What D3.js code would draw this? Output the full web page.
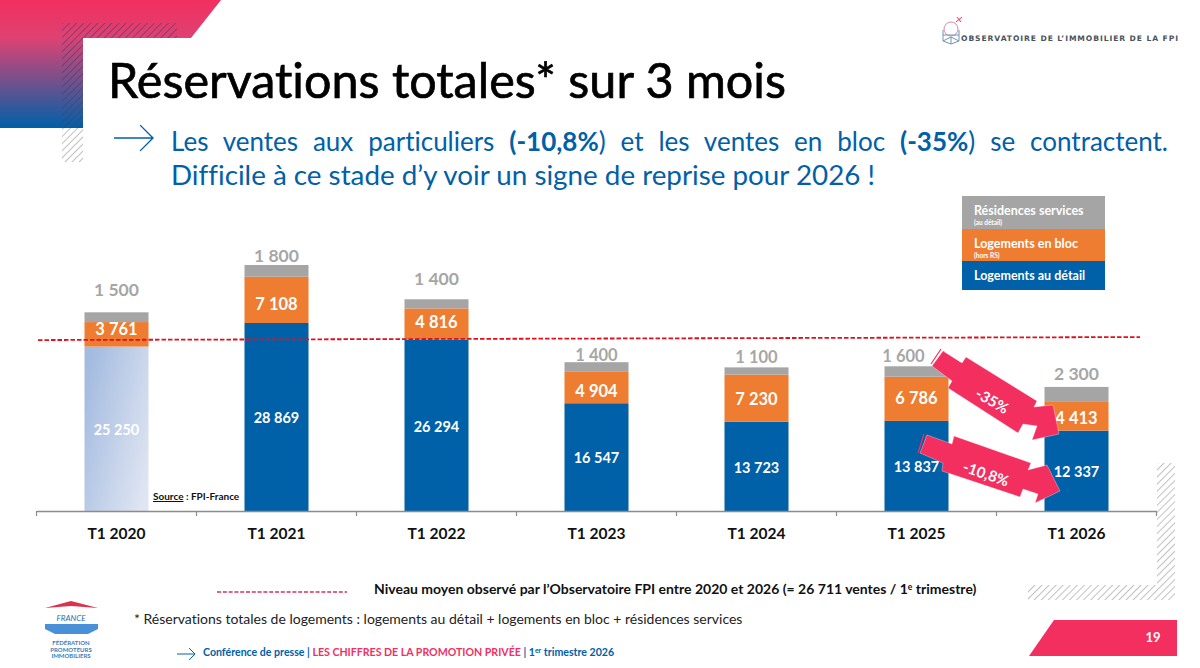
<!DOCTYPE html>
<html lang="fr">
<head>
<meta charset="utf-8">
<title>Réservations totales</title>
<script src="https://cdn.jsdelivr.net/npm/d3@7"></script>
<style>
  html, body { margin: 0; padding: 0; background: #fff; }
  svg { display: block; font-family: Lato, "Open Sans", sans-serif; font-variant-ligatures: none; }
</style>
</head>
<body>
<div id="chart"></div>
<script>
var width = 1200,
  height = 668;

// values
var periods = ['T1 2020', 'T1 2021', 'T1 2022', 'T1 2023', 'T1 2024', 'T1 2025', 'T1 2026'];
var detail = [25250, 28869, 26294, 16547, 13723, 13837, 12337];
var bloc = [3761, 7108, 4816, 4904, 7230, 6786, 4413];
var services = [1500, 1800, 1400, 1400, 1100, 1600, 2300];
var meanLevel = [26250, 26711]; // the slide's line is drawn slightly tilted

// labels were placed by hand on the slide
var totalLabelGap = [17, 3, 15, 2, 5, 5, 7];
var totalLabelShift = [0, 0, 0, 0, 0, -13, 0];
var blocLabelNudge = [-5, 4, -2, 4, 1, -1, 2];

var colors = { detail: '#0060a8', bloc: '#ee7d31', services: '#a5a5a5', pink: '#f22f5f', hatch: '#969696' };

var rows = periods.map(function(p, i) {
  return { period: p, detail: detail[i], bloc: bloc[i], services: services[i] };
});

var svg = d3.select('#chart').append('svg')
  .attr('width', width)
  .attr('height', height)
  .attr('viewBox', '0 0 ' + width + ' ' + height);

var defs = svg.append('defs');

var corner = defs.append('linearGradient')
  .attr('id', 'corner').attr('x1', 0).attr('y1', 0).attr('x2', 0).attr('y2', 1);
corner.append('stop').attr('offset', '0%').attr('stop-color', '#f22f5f');
corner.append('stop').attr('offset', '30%').attr('stop-color', '#dd4273');
corner.append('stop').attr('offset', '100%').attr('stop-color', '#0060a8');

var pale = defs.append('linearGradient')
  .attr('id', 'pale').attr('x1', 0).attr('y1', 0.2).attr('x2', 1).attr('y2', 0.8);
pale.append('stop').attr('offset', '0%').attr('stop-color', '#a3bbdf');
pale.append('stop').attr('offset', '100%').attr('stop-color', '#dfe5f2');

function hatch(id, color, sw) {
  var p = defs.append('pattern')
    .attr('id', id)
    .attr('patternUnits', 'userSpaceOnUse')
    .attr('width', 5).attr('height', 5)
    .attr('patternTransform', 'rotate(45)');
  p.append('line')
    .attr('x1', 0).attr('y1', 0).attr('x2', 0).attr('y2', 5)
    .attr('stroke', color).attr('stroke-width', sw);
}
hatch('hatchGrey', colors.hatch, 1.2);
hatch('hatchDark', '#3c3f6a', 1.5);

// slide decoration
var deco = svg.append('g');
deco.append('path')
  .attr('d', 'M0,0H221L191,38H83V128H0Z')
  .attr('fill', 'url(#corner)');
deco.append('path')
  .attr('d', 'M62,23H177V38H83V128H62Z')
  .attr('fill', 'url(#hatchDark)').attr('opacity', 0.75);
deco.append('rect')
  .attr('x', 62).attr('y', 128).attr('width', 21).attr('height', 34)
  .attr('fill', 'url(#hatchGrey)');
deco.append('path')
  .attr('d', 'M1157,463H1175V600H1028V585H1157Z')
  .attr('fill', 'url(#hatchGrey)');
deco.append('path')
  .attr('d', 'M1029,656L1054,620H1177V656Z')
  .attr('fill', colors.pink);
deco.append('text')
  .attr('x', 1153).attr('y', 642)
  .attr('text-anchor', 'middle')
  .style('font-size', '13px').style('font-weight', 700).style('fill', '#fff')
  .text('19');

function arrow(g, x, y, w, color, sw) {
  g.append('path')
    .attr('d', 'M' + x + ',' + y + 'H' + (x + w) + 'M' + (x + w - w * 0.33) + ',' + (y - w * 0.33) + 'L' + (x + w) + ',' + y + 'L' + (x + w - w * 0.33) + ',' + (y + w * 0.33))
    .attr('fill', 'none').attr('stroke', color).attr('stroke-width', sw);
}

// heading
svg.append('text')
  .attr('x', 108).attr('y', 98)
  .attr('textLength', 678).attr('lengthAdjust', 'spacingAndGlyphs')
  .style('font-size', '48px').style('fill', '#000')
  .style('stroke', '#000').style('stroke-width', 0.7)
  .text('Réservations totales* sur 3 mois');

arrow(svg, 114, 138, 39, '#0060a8', 1.4);

var lead = svg.append('g')
  .style('font-size', '26px').style('fill', '#0060a8');
var lead1 = lead.append('text').attr('x', 171).attr('y', 151);
lead1.append('tspan').text('Les ventes aux particuliers ');
lead1.append('tspan').style('font-weight', 700).text('(-10,8%');
lead1.append('tspan').text(') et les ventes en bloc ');
lead1.append('tspan').style('font-weight', 700).text('(-35%');
lead1.append('tspan').text(') se contractent.');
// justified on the slide: spread the leftover room over the 12 word gaps
var spare = 997 - lead1.node().getComputedTextLength();
lead1.style('word-spacing', (spare / 12) + 'px');
lead.append('text').attr('x', 171).attr('y', 185)
  .attr('textLength', 704).attr('lengthAdjust', 'spacingAndGlyphs')
  .text('Difficile à ce stade d’y voir un signe de reprise pour 2026 !');

// logo, top right
var logo = svg.append('g').attr('fill', 'none').attr('stroke', '#6f95b5').attr('stroke-width', 1);
logo.append('circle').attr('cx', 951).attr('cy', 29).attr('r', 7).attr('stroke', '#d98aa5');
logo.append('path').attr('d', 'M943,30V41L951,44L959,41V30M943,35H959M943,41L951,37L959,41M951,37V44');
logo.append('path').attr('d', 'M956,22L962,17M957,17L961,22').attr('stroke', '#f22f5f');
svg.append('text')
  .attr('x', 961).attr('y', 41)
  .attr('textLength', 217).attr('lengthAdjust', 'spacing')
  .style('font-family', '"DejaVu Sans"')
  .style('font-size', '7.6px').style('font-weight', 700).style('fill', '#4a535b')
  .text('OBSERVATOIRE DE L’IMMOBILIER DE LA FPI');

// legend
var legendItems = [
  { fill: colors.services, y: 196, h: 33, name: 'Résidences services', note: '(au détail)' },
  { fill: colors.bloc, y: 229, h: 32, name: 'Logements en bloc', note: '(hors RS)' },
  { fill: colors.detail, y: 261, h: 29, name: 'Logements au détail', note: null }
];
var legend = svg.append('g').selectAll('g').data(legendItems).enter().append('g');
legend.append('rect')
  .attr('x', 962).attr('width', 143)
  .attr('y', function(d) { return d.y; })
  .attr('height', function(d) { return d.h; })
  .attr('fill', function(d) { return d.fill; });
legend.append('text')
  .attr('x', 974)
  .attr('y', function(d) { return d.y + 19; })
  .style('font-size', '12.5px').style('font-weight', 700).style('fill', '#fff')
  .text(function(d) { return d.name; });
legend.append('text')
  .attr('x', 974)
  .attr('y', function(d) { return d.y + 29; })
  .style('font-size', '6.5px').style('font-weight', 700).style('fill', '#fff')
  .text(function(d) { return d.note; });

// chart
var baseline = 511;
var x = d3.scaleBand()
  .domain(periods)
  .range([36.5, 1156.5])
  .paddingInner(0.6)
  .paddingOuter(0.3);
var y = d3.scaleLinear()
  .domain([0, 28869])
  .range([baseline, 323]);

var keys = ['detail', 'bloc', 'services'];
var stacked = d3.stack().keys(keys)(rows);

var layers = svg.append('g').selectAll('g')
  .data(stacked)
  .enter().append('g');

layers.selectAll('rect')
  .data(function(s) {
    return s.map(function(d) { return { key: s.key, low: d[0], high: d[1], period: d.data.period }; });
  })
  .enter().append('rect')
  .attr('x', function(d) { return x(d.period); })
  .attr('width', x.bandwidth())
  .attr('y', function(d) { return y(d.high); })
  .attr('height', function(d) { return y(d.low) - y(d.high); })
  .attr('fill', function(d) {
    if (d.key == 'detail' && d.period == 'T1 2020') return 'url(#pale)';
    return colors[d.key];
  });

var fmt = function(v) { return d3.format(',')(v).replace(/,/g, ' '); };

// mean level
svg.append('line')
  .attr('x1', 38).attr('x2', 1140)
  .attr('y1', y(meanLevel[0])).attr('y2', y(meanLevel[1]))
  .attr('stroke', '#e2101c').attr('stroke-width', 1.8)
  .attr('stroke-dasharray', '4.5 2');

// segment labels
layers.filter(function(s) { return s.key != 'services'; })
  .selectAll('text')
  .data(function(s) {
    return s.map(function(d) { return { key: s.key, low: d[0], high: d[1], period: d.data.period }; });
  })
  .enter().append('text')
  .attr('x', function(d) { return x(d.period) + x.bandwidth() / 2; })
  .attr('y', function(d, i) {
    var nudge = d.key == 'bloc' ? blocLabelNudge[i] : 1;
    return (y(d.low) + y(d.high)) / 2 + nudge;
  })
  .attr('dy', '0.36em')
  .attr('text-anchor', 'middle')
  .style('font-weight', 700)
  .style('fill', '#fff')
  .style('font-size', function(d) { return d.key == 'bloc' ? '16.5px' : '14.5px'; })
  .text(function(d) { return fmt(d.high - d.low); });

// service counts sit above the bars in grey
svg.append('g').selectAll('text')
  .data(stacked[2])
  .enter().append('text')
  .attr('x', function(d, i) { return x(d.data.period) + x.bandwidth() / 2 + totalLabelShift[i]; })
  .attr('y', function(d, i) { return y(d[1]) - totalLabelGap[i] + 0.5; })
  .attr('text-anchor', 'middle')
  .style('font-size', function(d, i) { return (i >= 3 && i <= 5) ? '16.5px' : '17.5px'; })
  .style('font-weight', 700)
  .style('fill', '#a6a6a6')
  .text(function(d) { return fmt(d[1] - d[0]); });

// axis: ticks fall between the bands, so they get drawn by hand from the scale
var axis = svg.append('g')
  .attr('transform', 'translate(0,' + baseline + ')')
  .call(d3.axisBottom(x).tickSize(0).tickPadding(17));
axis.select('.domain').attr('stroke', '#8c8c8c').attr('stroke-width', 1.4);
axis.selectAll('text')
  .style('font-family', 'Lato')
  .style('font-size', '15.5px')
  .style('font-weight', 700)
  .style('fill', '#111');
axis.selectAll('.edge')
  .data(d3.range(periods.length + 1))
  .enter().append('line')
  .attr('class', 'edge')
  .attr('x1', function(i) { return x.range()[0] + i * x.step(); })
  .attr('x2', function(i) { return x.range()[0] + i * x.step(); })
  .attr('y1', 0).attr('y2', 5)
  .attr('stroke', '#8c8c8c').attr('stroke-width', 1.2);

// source
var source = svg.append('text')
  .attr('x', 153).attr('y', 500)
  .style('font-size', '10px').style('font-weight', 700).style('fill', '#111');
source.append('tspan').style('text-decoration', 'underline').text('Source');
source.append('tspan').text(' : FPI-France');

// change arrows
var arrowShapes = [
  { d: 'M943,351L962,363L966,357L1037,401L1034,407L1053,405L1059,434L1032,440L1037,426L1023,424L1018,433L948,388L952,381L932,366Z',
    tail: 'M931,364L941,349M934,366L944,351', label: '-35%', lx: 992, ly: 401, rot: 30 },
  { d: 'M927,435L952,444L954,436L1031,463L1028,470L1047,465L1060,491L1035,503L1038,494L1023,489L1020,497L942,471L943,463L920,453Z',
    tail: 'M918,453L924,434M921,454L927,435', label: '-10,8%', lx: 986, ly: 474, rot: 19 }
];
var notes = svg.append('g').selectAll('g').data(arrowShapes).enter().append('g');
notes.append('path')
  .attr('d', function(d) { return d.tail; })
  .attr('fill', 'none').attr('stroke', colors.pink).attr('stroke-width', 1.2);
notes.append('path')
  .attr('d', function(d) { return d.d; })
  .attr('fill', colors.pink)
  .attr('stroke', '#fff').attr('stroke-opacity', 0.55).attr('stroke-width', 0.6);
notes.append('text')
  .attr('text-anchor', 'middle')
  .attr('transform', function(d) { return 'translate(' + d.lx + ',' + d.ly + ') rotate(' + d.rot + ')'; })
  .attr('dy', '0.35em')
  .style('font-size', '15px').style('font-weight', 700).style('fill', '#fff')
  .text(function(d) { return d.label; });

// notes under the chart
svg.append('line')
  .attr('x1', 217).attr('x2', 347).attr('y1', 592).attr('y2', 592)
  .attr('stroke', '#d9305a').attr('stroke-width', 1.6)
  .attr('stroke-dasharray', '4 1.8');

var mean = svg.append('text')
  .attr('x', 374).attr('y', 594)
  .style('font-size', '14px').style('font-weight', 700).style('fill', '#111');
mean.append('tspan').text('Niveau moyen observé par l’Observatoire FPI entre 2020 et 2026 (= 26 711 ventes / 1');
mean.append('tspan').attr('dy', -4).style('font-size', '8.5px').text('e');
mean.append('tspan').attr('dy', 4).text(' trimestre)');

svg.append('text')
  .attr('x', 134).attr('y', 624)
  .style('font-size', '14px').style('fill', '#222')
  .text('* Réservations totales de logements : logements au détail + logements en bloc + résidences services');

arrow(svg, 177, 654, 18, '#0060a8', 1);

var conf = svg.append('text')
  .attr('x', 203).attr('y', 656)
  .style('font-size', '10.6px').style('font-weight', 700).style('fill', '#0060a8');
conf.append('tspan').text('Conférence de presse | ');
conf.append('tspan').style('fill', colors.pink).text('LES CHIFFRES DE LA PROMOTION PRIVÉE');
conf.append('tspan').text(' | 1');
conf.append('tspan').attr('dy', -3).style('font-size', '7px').text('er');
conf.append('tspan').attr('dy', 3).text(' trimestre 2026');

// federation logo, bottom left
var fed = svg.append('g');
fed.append('path').attr('d', 'M45,608L71,601L98,608L71,606Z').attr('fill', '#d9344f');
fed.append('path').attr('d', 'M45,624H98V629L88,634H55L45,629Z').attr('fill', '#4a90d6');
fed.append('text')
  .attr('x', 71).attr('y', 621)
  .attr('text-anchor', 'middle')
  .style('font-size', '8px').style('font-style', 'italic').style('fill', '#1d6fb5')
  .text('FRANCE');
fed.selectAll('.fedLine')
  .data(['FÉDÉRATION', 'PROMOTEURS', 'IMMOBILIERS'])
  .enter().append('text')
  .attr('class', 'fedLine')
  .attr('x', 71)
  .attr('y', function(d, i) { return 645 + i * 6.5; })
  .attr('text-anchor', 'middle')
  .style('font-size', '6px').style('font-weight', 700).style('fill', '#3f7cb5')
  .text(function(d) { return d; });
</script>
</body>
</html>
